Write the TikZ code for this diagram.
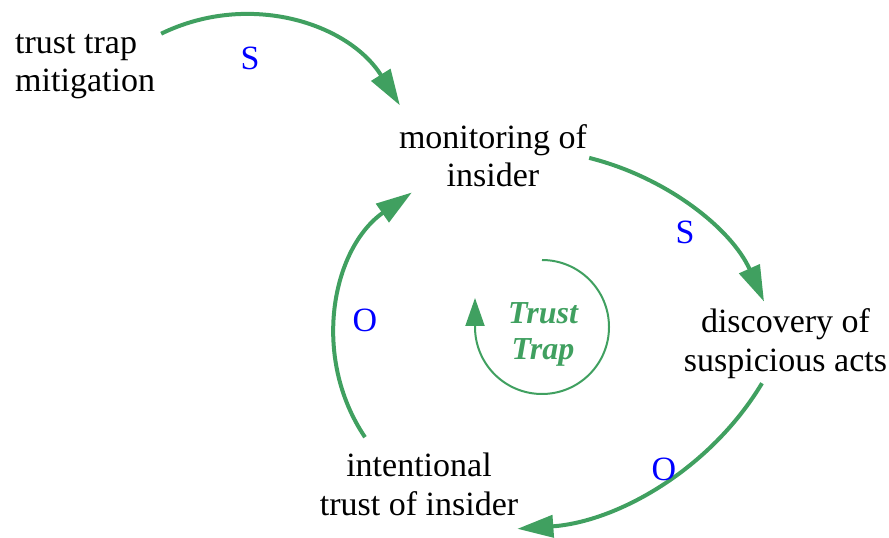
\documentclass[tikz,border=0pt]{standalone}
\usepackage{fontspec}
\setmainfont{Liberation Serif}
\usetikzlibrary{arrows.meta}
\definecolor{loopgreen}{RGB}{64,160,96}
\definecolor{signblue}{RGB}{0,0,255}

\begin{document}
\begin{tikzpicture}[x=1pt,y=1pt,
  var/.style={inner sep=0pt,align=center,font=\fontsize{34}{38.5}\selectfont},
  sign/.style={inner sep=0pt,text=signblue,font=\fontsize{34}{38.5}\selectfont},
  link/.style={draw=loopgreen,line width=4pt,-{Triangle[length=36pt,width=22pt]}},
  looparrow/.style={draw=loopgreen,line width=2pt,-{Triangle[length=28pt,width=19pt]}}]
\useasboundingbox (0,0) rectangle (889,538);
% variables
\node[var,align=left,anchor=west] (mit) at (15,471.6) {trust trap\\mitigation};
\node[var] (mon) at (493,382.1) {monitoring of\\insider};
\node[var] (dis) at (785.5,194.4) {discovery of\\suspicious acts};
\node[var] (int) at (419,53.6) {intentional\\trust of insider};
% loop name and its circle
\node[inner sep=0pt,align=center,text=loopgreen,font=\fontsize{32}{36}\selectfont\bfseries\itshape] (tt) at (543,203.4) {Trust\\Trap};
\draw[looparrow] ([xshift=-1pt,yshift=74.6pt]tt.center) arc[start angle=90,end angle=-180,radius=67pt] -- ++(0,29pt);
% links
\draw[link] ([xshift=6pt]mit.north east) to[out=26,in=122] ([xshift=1pt,yshift=19pt]mon.north west);
\draw[link] ([xshift=2pt,yshift=-2pt]mon.east) to[out=-14,in=114,looseness=0.9] ([xshift=-21.5pt,yshift=7pt]dis.north);
\draw[link] ([xshift=-23.5pt,yshift=-4.6pt]dis.south) to[out=-121,in=4,looseness=0.9] ([xshift=-1pt,yshift=-13pt]int.south east);
\draw[link] ([xshift=-54pt,yshift=15.8pt]int.north) to[out=124,in=215] ([xshift=13pt,yshift=-5pt]mon.south west);
% polarity signs
\node[sign] (s1) at (250,480) {S};
\node[sign] (s2) at (685,305.5) {S};
\node[sign] (o1) at (365,218) {O};
\node[sign] (o2) at (664,68.5) {O};
\end{tikzpicture}
\end{document}
